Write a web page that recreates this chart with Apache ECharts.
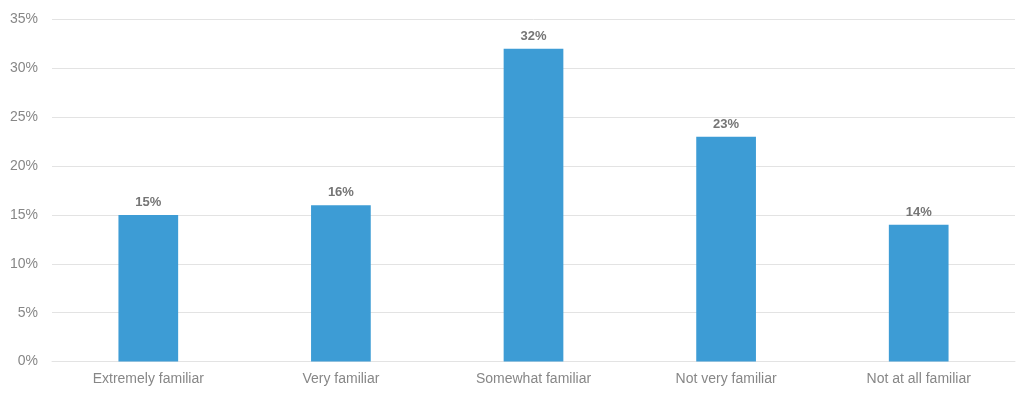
<!DOCTYPE html>
<html>
<head>
<meta charset="utf-8">
<script src="https://cdn.jsdelivr.net/npm/echarts@6/dist/echarts.min.js"></script>
<style>html,body{margin:0;padding:0;background:#fff}#c{width:1024px;height:396px}</style>
</head>
<body>
<div id="c"></div>
<script>
const categories = ["Extremely familiar", "Very familiar", "Somewhat familiar", "Not very familiar", "Not at all familiar"];
const values = [15, 16, 32, 23, 14];
const yTicks = [0, 5, 10, 15, 20, 25, 30, 35];

const chart = echarts.init(document.getElementById('c'), null, {renderer: 'canvas'});
chart.setOption({
  animation: false,
  grid: {left: 52, right: 9, top: 19.5, bottom: 34.5, containLabel: false},
  xAxis: {
    type: 'category',
    data: categories,
    axisLine: {show: true, lineStyle: {color: '#e3e3e3', width: 1}},
    axisTick: {show: false},
    axisLabel: {color: '#878787', fontSize: 14, fontFamily: 'Liberation Sans, Arial, sans-serif', margin: 11}
  },
  yAxis: {
    type: 'value',
    min: yTicks[0],
    max: yTicks[yTicks.length - 1],
    interval: 5,
    axisLine: {show: false},
    axisTick: {show: false},
    splitLine: {lineStyle: {color: '#e3e3e3', width: 1}},
    axisLabel: {color: '#878787', fontSize: 14, fontFamily: 'Liberation Sans, Arial, sans-serif', margin: 14, formatter: '{value}%'}
  },
  series: [{
    type: 'bar',
    data: values,
    barWidth: '31%',
    itemStyle: {color: '#3d9cd5'},
    label: {
      show: true,
      position: 'top',
      distance: 6,
      formatter: '{c}%',
      color: '#757575',
      fontWeight: 'bold',
      fontSize: 13,
      fontFamily: 'Liberation Sans, Arial, sans-serif'
    }
  }]
});
</script>
</body>
</html>
